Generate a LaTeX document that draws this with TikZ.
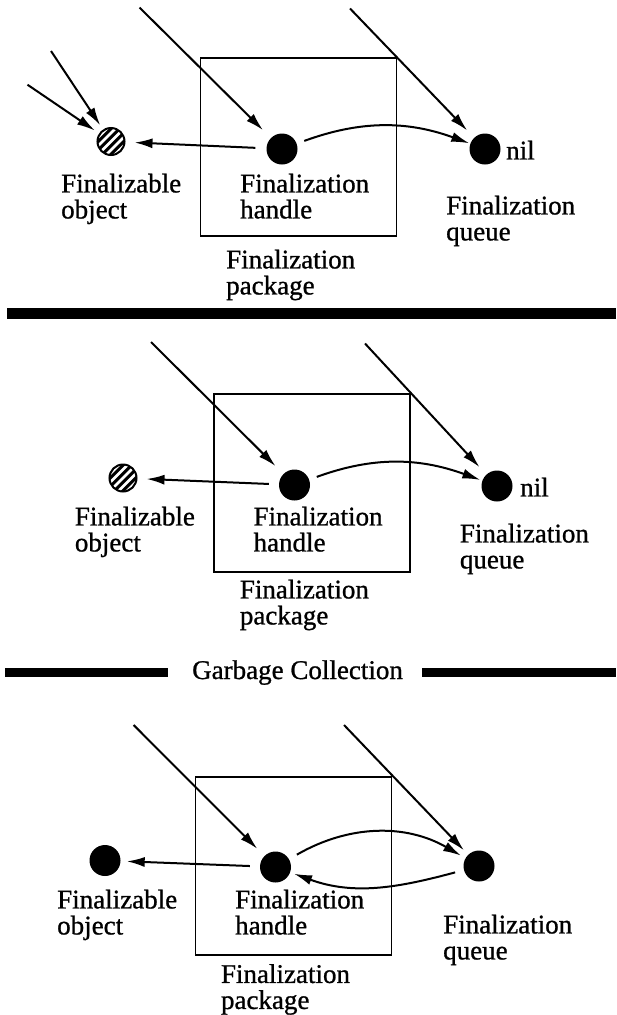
\documentclass[tikz,border=0pt]{standalone}
\usepackage{fontspec}
\setmainfont[FakeBold=0.9]{Liberation Serif}
\usetikzlibrary{arrows.meta}

\begin{document}
\begin{tikzpicture}[
    x=1pt, y=-1pt,
    dot/.style={circle, fill=black, minimum size=31pt, inner sep=0pt},
    hatchdot/.style={circle, draw=black, line width=2pt, minimum size=27pt, inner sep=0pt,
        path picture={\foreach \d in {-12.75,-4.25,4.25,12.75}
            \draw[line width=3pt] ([xshift=\d pt-16pt, yshift=-16pt]path picture bounding box.center) -- ++(32pt,32pt);}},
    pkgbox/.style={draw, line width=1.9pt, minimum width=196pt, minimum height=178pt, inner sep=0pt},
    ptr/.style={line width=2pt, -{Latex[length=18pt,width=10pt]}},
    txt/.style={font=\fontsize{27}{26}\selectfont, align=left, anchor=north west, inner sep=0pt},
    bar/.style={line width=10pt}
]
\useasboundingbox (0,0) rectangle (616,1015);

% before: object still reachable
\node[pkgbox] (p1) at (298.5,147) {};
\node[hatchdot] (o1) at (111,141.5) {};
\node[dot] (h1) at (282,149) {};
\node[dot] (q1) at (485,149) {};
\coordinate (a1) at (51,51);
\coordinate (b1) at (27.5,84.7);
\coordinate (c1) at (139.5,7.5);
\coordinate (d1) at (350,8.5);
\draw[ptr, shorten >=5pt] (a1) -- (o1);
\draw[ptr, shorten >=5pt] (b1) -- (o1);
\draw[ptr, shorten >=11pt] (c1) -- (h1);
\draw[ptr, shorten >=10pt] (d1) -- (q1);
\draw[ptr, shorten <=11pt, shorten >=9pt] (h1) -- (o1);
\draw[ptr, shorten <=8pt, shorten >=1pt] (h1) to[out=20, in=160] (q1);
\node[txt] (t1o) at (61,173.5) {Finalizable\\object};
\node[txt] (t1h) at (240,173.5) {Finalization\\handle};
\node[txt] (t1q) at (446,195.5) {Finalization\\queue};
\node[txt] (t1p) at (226,249.5) {Finalization\\package};
\node[txt] (t1n) at (506,140.5) {nil};

\draw[bar, line width=11pt] (7,313.5) -- (616,313.5);

% object no longer referenced
\node[pkgbox] (p2) at (312,482.7) {};
\node[hatchdot] (o2) at (123,478) {};
\node[dot] (h2) at (294.5,485) {};
\node[dot] (q2) at (497,486) {};
\coordinate (c2) at (151,342);
\coordinate (d2) at (365,343.5);
\draw[ptr, shorten >=11pt] (c2) -- (h2);
\draw[ptr, shorten >=10pt] (d2) -- (q2);
\draw[ptr, shorten <=10pt, shorten >=9pt] (h2) -- (o2);
\draw[ptr, shorten <=8pt, shorten >=2pt] (h2) to[out=20, in=160] (q2);
\node[txt] (t2o) at (74.7,506.5) {Finalizable\\object};
\node[txt] (t2h) at (253.4,506.5) {Finalization\\handle};
\node[txt] (t2q) at (459.7,523.5) {Finalization\\queue};
\node[txt] (t2p) at (239.7,579.5) {Finalization\\package};
\node[txt] (t2n) at (520,477.5) {nil};

% separator
\node[txt, anchor=base west] (gc) at (192,679) {Garbage Collection};
\draw[bar, line width=9pt] (5,672.5) -- (168,672.5);
\draw[bar, line width=9pt] (422,672.5) -- (616,672.5);

% after collection: handle queued
\node[pkgbox] (p3) at (293.5,866) {};
\node[dot] (o3) at (105,860.5) {};
\node[dot] (h3) at (275.5,867) {};
\node[dot] (q3) at (479,866) {};
\coordinate (c3) at (133.6,725);
\coordinate (d3) at (344,725);
\draw[ptr, shorten >=10pt] (c3) -- (h3);
\draw[ptr, shorten >=6pt] (d3) -- (q3);
\draw[ptr, shorten <=10pt, shorten >=6pt] (h3) -- (o3);
\draw[ptr, shorten <=9pt, shorten >=5pt] (h3) to[out=30, in=150] (q3);
\draw[ptr, shorten <=9pt, shorten >=4pt] (q3) to[out=195, in=-20] (h3);
\node[txt] (t3o) at (57,889.5) {Finalizable\\object};
\node[txt] (t3h) at (235,889.5) {Finalization\\handle};
\node[txt] (t3q) at (443,914.5) {Finalization\\queue};
\node[txt] (t3p) at (220.8,964) {Finalization\\package};

\end{tikzpicture}
\end{document}
